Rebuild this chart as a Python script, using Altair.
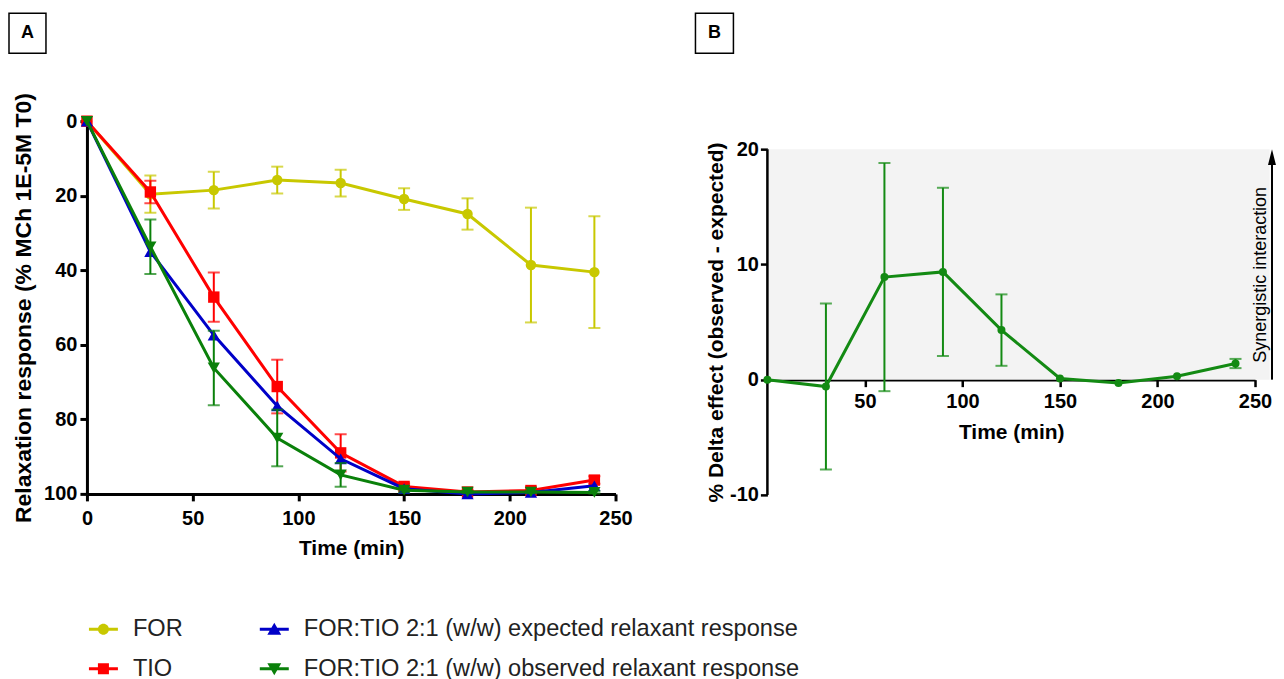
import altair as alt
import pandas as pd

# ---------------- data ----------------
time_min = [0, 30, 60, 90, 120, 150, 180, 210, 240]

for_mean = [0, 19.6, 18.5, 15.8, 16.6, 20.9, 24.9, 38.6, 40.5]
for_sem = [0, 5.0, 4.9, 3.6, 3.6, 2.9, 4.2, 15.4, 15.0]
tio_mean = [0, 19.0, 47.2, 71.2, 89.0, 98.0, 99.5, 99.1, 96.3]
tio_sem = [0, 3.0, 6.6, 7.2, 5.0, 0.8, 0.4, 0.8, 1.0]
exp_mean = [0, 35.0, 57.4, 76.4, 90.6, 98.6, 100.0, 99.6, 97.8]
obs_mean = [0, 33.7, 66.2, 85.0, 94.9, 99.0, 99.5, 99.5, 99.6]
obs_sem = [0, 7.3, 10.0, 7.6, 3.2, 0.6, 0.3, 0.3, 0.3]

delta_mean = [0, -0.6, 8.9, 9.35, 4.3, 0.1, -0.3, 0.3, 1.4]
delta_sem = [0, 7.2, 9.9, 7.3, 3.1, 0, 0, 0, 0.4]

series_names = [
    "FOR",
    "TIO",
    "FOR:TIO 2:1 (w/w) expected relaxant response",
    "FOR:TIO 2:1 (w/w) observed relaxant response",
]
x_ticks_a = [0, 50, 100, 150, 200, 250]
y_ticks_a = [0, 20, 40, 60, 80, 100]
x_ticks_b = [50, 100, 150, 200, 250]
y_ticks_b = [-10, 0, 10, 20]

# ---------------- styles ----------------
FONT = "Liberation Sans"
colors = {
    series_names[0]: "#c8c800",
    series_names[1]: "#ff0000",
    series_names[2]: "#0000c8",
    series_names[3]: "#0a800a",
}
shapes = {
    series_names[0]: ("circle", 110),
    series_names[1]: ("square", 130),
    series_names[2]: ("triangle-up", 150),
    series_names[3]: ("triangle-down", 150),
}
legend_paths = {
    series_names[0]: "M-1,-0.1H1V0.1H-1Z M0,-0.38A0.38,0.38 0 1,1 0,0.38A0.38,0.38 0 1,1 0,-0.38Z",
    series_names[1]: "M-1,-0.1H1V0.1H-1Z M-0.38,-0.38H0.38V0.38H-0.38Z",
    series_names[2]: "M-1,-0.1H1V0.1H-1Z M0,-0.45L0.48,0.38H-0.48Z",
    series_names[3]: "M-1,-0.1H1V0.1H-1Z M-0.48,-0.38H0.48L0,0.45Z",
}
B_GREEN = "#138a13"

ax_common = dict(
    grid=False, domainColor="black", tickColor="black", domainWidth=3,
    tickWidth=3, tickSize=7, labelFont=FONT, labelFontSize=20,
    labelFontWeight="bold", labelColor="black", titleFont=FONT,
    titleFontSize=21, titleFontWeight="bold", titleColor="black",
    labelOverlap=False,
)


def xa(field):
    return alt.X(f"{field}:Q", scale=alt.Scale(domain=[0, 250], nice=False),
                 axis=alt.Axis(values=x_ticks_a, title="Time (min)", labelFlush=False,
                               labelPadding=8, titlePadding=9, **ax_common))


def ya(field):
    return alt.Y(f"{field}:Q", scale=alt.Scale(domain=[0, 100], nice=False, reverse=True),
                 axis=alt.Axis(values=y_ticks_a, title="Relaxation response (% MCh 1E-5M T0)",
                               labelPadding=3, titlePadding=8,
                               **{**ax_common, "titleFontSize": 23}))


H_B = 374
B_TOP = 22.43
PX_PER_UNIT_B = H_B / (B_TOP + 10)


def xb(field):
    return alt.X(f"{field}:Q", scale=alt.Scale(domain=[0, 250], nice=False),
                 axis=alt.Axis(values=x_ticks_b, title="Time (min)", labelFlush=False,
                               offset=-PX_PER_UNIT_B * 10, labelPadding=5, titlePadding=10,
                               **{**ax_common, "domainWidth": 2.5, "tickWidth": 2.5}))


def yb(field):
    return alt.Y(f"{field}:Q", scale=alt.Scale(domain=[-10, B_TOP], nice=False),
                 axis=alt.Axis(values=y_ticks_b, title="% Delta effect (observed - expected)",
                               labelExpr="'' + datum.value", labelPadding=2, titlePadding=3,
                               domain=False, titleY=(B_TOP - 5) * PX_PER_UNIT_B,
                               **{**ax_common, "domainWidth": 2.5, "tickWidth": 2.5}))


def make_df(mean, sem):
    return pd.DataFrame({
        "time": time_min,
        "value": mean,
        "lo": [m - s for m, s in zip(mean, sem)],
        "hi": [m + s for m, s in zip(mean, sem)],
        "sem": sem,
    })


# ---------------- panel A ----------------
panel_a_series = [
    (series_names[0], for_mean, for_sem),
    (series_names[1], tio_mean, tio_sem),
    (series_names[2], exp_mean, None),
    (series_names[3], obs_mean, obs_sem),
]

layers_a = []
for name, mean, sem in panel_a_series:
    df = make_df(mean, sem if sem is not None else [0] * len(mean))
    base = alt.Chart(df)
    c = colors[name]
    layers_a.append(base.mark_line(color=c, strokeWidth=3).encode(x=xa("time"), y=ya("value")))
    if sem is not None:
        eb = base.transform_filter("datum.sem > 0")
        layers_a.append(eb.mark_rule(color=c, strokeWidth=2).encode(x=xa("time"), y=ya("lo"), y2="hi"))
        layers_a.append(eb.mark_tick(color=c, orient="horizontal", size=12, thickness=2)
                        .encode(x=xa("time"), y=ya("lo")))
        layers_a.append(eb.mark_tick(color=c, orient="horizontal", size=12, thickness=2)
                        .encode(x=xa("time"), y=ya("hi")))
    shp, sz = shapes[name]
    layers_a.append(base.mark_point(filled=True, shape=shp, size=sz, color=c, opacity=1)
                    .encode(x=xa("time"), y=ya("value")))

# legend layer (no visible marks, only drives the legend); legend fills column by column
legend_order = series_names
legend_df = pd.DataFrame({"series": legend_order, "time": [0] * 4, "value": [0] * 4})
legend_layer = (
    alt.Chart(legend_df)
    .transform_filter("datum.series == 'none'")
    .mark_point(filled=True, opacity=1)
    .encode(
        x=xa("time"), y=ya("value"),
        color=alt.Color("series:N", title=None,
                        scale=alt.Scale(domain=legend_order, range=[colors[s] for s in legend_order]),
                        legend=alt.Legend(orient="none", legendX=2, legendY=493.5, columns=2,
                                          labelFont=FONT, labelFontSize=23.6, labelColor="#222222",
                                          labelFontWeight="normal", symbolSize=841,
                                          symbolStrokeWidth=0, labelOffset=15, rowPadding=13,
                                          columnPadding=77, padding=0, offset=0, labelLimit=800)),
        shape=alt.Shape("series:N", title=None,
                        scale=alt.Scale(domain=legend_order, range=[legend_paths[s] for s in legend_order])),
    )
)

one = pd.DataFrame({"k": [0]})
box_a = alt.Chart(one).mark_rect(fill="white", stroke="black", strokeWidth=1.5).encode(
    x=alt.value(-78), x2=alt.value(-41), y=alt.value(-108), y2=alt.value(-68))
lab_a = alt.Chart(one).mark_text(text="A", font=FONT, fontSize=18, fontWeight="bold", color="black").encode(
    x=alt.value(-59.5), y=alt.value(-88))

panel_a = alt.layer(*layers_a, legend_layer, box_a, lab_a).properties(width=529, height=373)

# ---------------- panel B ----------------
df_b = make_df(delta_mean, delta_sem)
base_b = alt.Chart(df_b)
shade = alt.Chart(pd.DataFrame({"x0": [0], "x1": [257.5], "y0": [0], "y1": [20]})).mark_rect(
    color="#f3f3f3").encode(x=xb("x0"), x2="x1", y=yb("y0"), y2="y1")
yaxis_line = alt.Chart(pd.DataFrame({"x": [0], "y0": [-10], "y1": [20]})).mark_rule(
    color="black", strokeWidth=2.5).encode(x=xb("x"), y=yb("y0"), y2="y1")
line_b = base_b.mark_line(color=B_GREEN, strokeWidth=3).encode(x=xb("time"), y=yb("value"))
eb_b = base_b.transform_filter("datum.sem > 0")
rule_b = eb_b.mark_rule(color=B_GREEN, strokeWidth=2).encode(x=xb("time"), y=yb("lo"), y2="hi")
caplo_b = eb_b.mark_tick(color=B_GREEN, orient="horizontal", size=12, thickness=2).encode(x=xb("time"), y=yb("lo"))
caphi_b = eb_b.mark_tick(color=B_GREEN, orient="horizontal", size=12, thickness=2).encode(x=xb("time"), y=yb("hi"))
pts_b = base_b.mark_point(filled=True, shape="circle", size=64, color=B_GREEN, opacity=1).encode(
    x=xb("time"), y=yb("value"))

arrow_df = pd.DataFrame({"x": [258.7], "y0": [0], "y1": [18.8], "yh": [19.31]})
arrow_line = alt.Chart(arrow_df).mark_rule(color="black", strokeWidth=2).encode(
    x=xb("x"), y=yb("y0"), y2="y1")
arrow_head = alt.Chart(arrow_df).mark_point(filled=True, shape="M0,-1L0.5,1H-0.5Z", size=256,
                                            color="black", opacity=1).encode(x=xb("x"), y=yb("yh"))
syn_text = alt.Chart(pd.DataFrame({"x": [253.1], "y": [9.1], "t": ["Synergistic interaction"]})).mark_text(
    angle=270, font=FONT, fontSize=18, color="black", align="center", baseline="middle").encode(
    x=xb("x"), y=yb("y"), text="t:N")

box_b = alt.Chart(one).mark_rect(fill="white", stroke="black", strokeWidth=1.5).encode(
    x=alt.value(-72), x2=alt.value(-34), y=alt.value(-108), y2=alt.value(-68))
lab_b = alt.Chart(one).mark_text(text="B", font=FONT, fontSize=18, fontWeight="bold", color="black").encode(
    x=alt.value(-53), y=alt.value(-88))

panel_b = alt.layer(shade, yaxis_line, line_b, rule_b, caplo_b, caphi_b, pts_b, arrow_line, arrow_head,
                    syn_text, box_b, lab_b).properties(width=488, height=H_B)

chart = (
    alt.hconcat(panel_a, panel_b, spacing=62)
    .properties(padding={"left": 0, "top": 4, "right": 0, "bottom": 0})
    .configure_view(stroke=None)
)

chart.save("out.html", embed_options={"renderer": "svg", "actions": False})
